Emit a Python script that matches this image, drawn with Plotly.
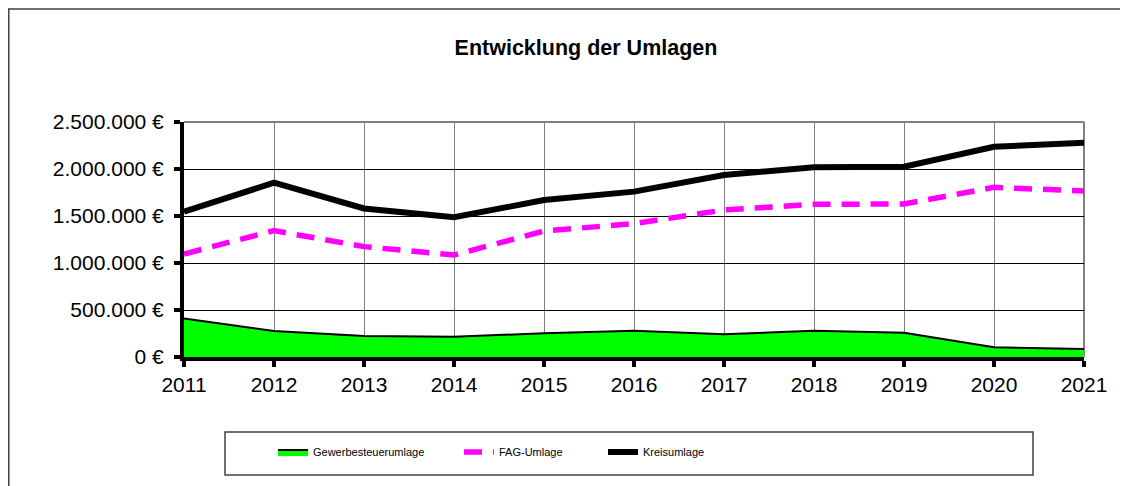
import plotly.graph_objects as go

years = [2011, 2012, 2013, 2014, 2015, 2016, 2017, 2018, 2019, 2020, 2021]
gewerbe = [410000, 277000, 223000, 216000, 252000, 280000, 241000, 280000, 259000, 103000, 85000]
fag = [1096000, 1344000, 1174000, 1085000, 1340000, 1420000, 1564000, 1624000, 1628000, 1805000, 1766000]
kreis = [1546000, 1854000, 1580000, 1486000, 1670000, 1759000, 1936000, 2018000, 2024000, 2237000, 2280000]
ytickvals = [0, 500000, 1000000, 1500000, 2000000, 2500000]
yticktext = ["0 €", "500.000 €", "1.000.000 €", "1.500.000 €", "2.000.000 €", "2.500.000 €"]

FONT = "Arial, Liberation Sans, sans-serif"
W, H = 1128, 486
OFF = 8  # page body margin
L, T = 176, 114
R = W - (1084 - OFF)
B = H - (357 - OFF)
PW, PH = W - L - R, H - T - B

def sx(x):
    return (x - OFF - L) / PW

def sy(y):
    return (H - B - (y - OFF)) / PH

def cx(x):
    return (x - OFF) / W

def cy(y):
    return 1 - (y - OFF) / H

fig = go.Figure()
fig.add_trace(go.Scatter(x=years, y=gewerbe, name="Gewerbesteuerumlage", mode="lines",
                         fill="tozeroy", fillcolor="#00FF00",
                         line=dict(color="black", width=2), legend="legend"))
fig.add_trace(go.Scatter(x=years, y=fag, name="FAG-Umlage", mode="lines",
                         line=dict(color="#FF00FF", width=5.5, dash="18px,11px"), legend="legend2"))
fig.add_trace(go.Scatter(x=years, y=kreis, name="Kreisumlage", mode="lines",
                         line=dict(color="black", width=6), legend="legend3"))

shapes = [
    dict(type="rect", xref="paper", yref="paper",
         x0=sx(8.75), x1=sx(1160), y0=sy(9), y1=sy(520),
         line=dict(color="#404040", width=1.5), fillcolor="rgba(0,0,0,0)", layer="below"),
    dict(type="rect", xref="paper", yref="paper",
         x0=sx(225), x1=sx(1033), y0=sy(432), y1=sy(475),
         line=dict(color="#404040", width=1.5), fillcolor="rgba(0,0,0,0)", layer="below"),
    dict(type="line", xref="paper", yref="paper", x0=0, x1=1, y0=1, y1=1,
         line=dict(color="#808080", width=2), layer="below"),
    dict(type="line", xref="paper", yref="paper", x0=1, x1=1, y0=0, y1=1,
         line=dict(color="#808080", width=2), layer="below"),
]

legend_common = dict(orientation="h", xref="container", yref="container",
                     yanchor="middle", xanchor="left", bgcolor="rgba(0,0,0,0)",
                     font=dict(family=FONT, size=11, color="black"), itemwidth=30)

fig.update_layout(
    width=W, height=H,
    margin=dict(l=L, r=R, t=T, b=B),
    paper_bgcolor="white", plot_bgcolor="white",
    title=dict(text="<b>Entwicklung der Umlagen</b>", x=cx(586), xanchor="center",
               y=cy(47), yanchor="middle", font=dict(family=FONT, size=21.5, color="black")),
    font=dict(family=FONT, size=21, color="black"),
    shapes=shapes,
    showlegend=True,
    legend=dict(x=cx(273), y=cy(452), **legend_common),
    legend2=dict(x=cx(459), y=cy(452), **legend_common),
    legend3=dict(x=cx(603), y=cy(452), **legend_common),
)
fig.update_xaxes(range=[2011, 2021], tickmode="array", tickvals=years,
                 ticktext=[str(y) for y in years],
                 showgrid=True, gridcolor="#808080", gridwidth=1,
                 showline=True, linecolor="black", linewidth=4,
                 ticks="outside", ticklen=6, tickwidth=4, tickcolor="black",
                 zeroline=False, tickfont=dict(family=FONT, size=21, color="black"))
fig.update_yaxes(range=[0, 2500000], tickmode="array", tickvals=ytickvals, ticktext=yticktext,
                 showgrid=True, gridcolor="black", gridwidth=1,
                 showline=True, linecolor="black", linewidth=4,
                 ticks="outside", ticklen=6, tickwidth=4, tickcolor="black",
                 ticklabelstandoff=6,
                 zeroline=False, tickfont=dict(family=FONT, size=21, color="black"))

fig.write_html("out.html")
